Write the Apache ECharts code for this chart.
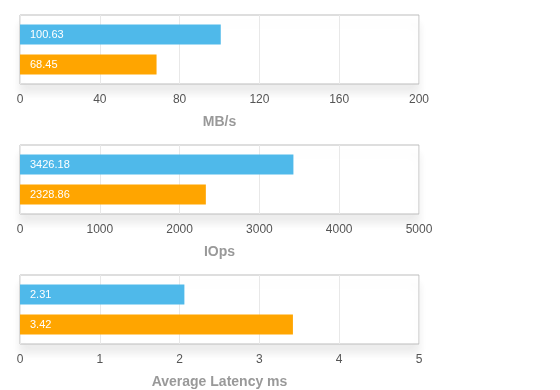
<!DOCTYPE html>
<html><head><meta charset="utf-8">
<script src="https://cdn.jsdelivr.net/npm/echarts@6/dist/echarts.min.js"></script>
<style>html,body{margin:0;padding:0;background:#fff}#c{width:560px;height:390px}</style>
</head><body><div id="c"></div>
<script>
// Data
const axisNames = ["MB/s", "IOps", "Average Latency ms"];
const axisMax = [200, 5000, 5];
const axisInterval = [40, 1000, 1];
const blueValues = [100.63, 3426.18, 2.06];
const orangeValues = [68.45, 2328.86, 3.42];
const blueLabels = ["100.63", "3426.18", "2.31"];
const orangeLabels = ["68.45", "2328.86", "3.42"];

const FONT = "'Liberation Sans', Arial, Helvetica, sans-serif";
const BLUE = "#4fb9ea";
const ORANGE = "#ffa500";
const tops = [15, 145, 275];

const grids = [], xAxes = [], yAxes = [], series = [];
for (let i = 0; i < 3; i++) {
  grids.push({
    left: 20, width: 399, top: tops[i], height: 69,
    show: true, borderColor: "#bdbdbd", borderWidth: 1, backgroundColor: "#fff",
    shadowColor: "rgba(0,0,0,0.08)", shadowBlur: 8, shadowOffsetY: 9
  });
  xAxes.push({
    type: "value", gridIndex: i, min: 0, max: axisMax[i], interval: axisInterval[i],
    axisLine: { show: false }, axisTick: { show: false },
    splitLine: { show: true, lineStyle: { color: "#e8e8e8", width: 1 } },
    axisLabel: { color: "#555", fontSize: 12, fontFamily: FONT, margin: 10,
      formatter: v => String(v) },
    name: axisNames[i], nameLocation: "middle", nameGap: 31,
    nameTextStyle: { color: "#999", fontSize: 14, fontWeight: "bold", fontFamily: FONT }
  });
  yAxes.push({
    type: "category", gridIndex: i, data: [axisNames[i]], inverse: true,
    axisLine: { show: false }, axisTick: { show: false }, axisLabel: { show: false },
    splitLine: { show: false }
  });
  const mk = (vals, labels, color) => ({
    type: "bar", xAxisIndex: i, yAxisIndex: i, barWidth: 20, barGap: "50%",
    data: [vals[i]], itemStyle: { color: color }, silent: true,
    label: {
      show: true, position: "insideLeft", distance: 10, color: "#fff",
      fontSize: 11, fontFamily: FONT, formatter: () => labels[i]
    }
  });
  series.push(mk(blueValues, blueLabels, BLUE));
  series.push(mk(orangeValues, orangeLabels, ORANGE));
}

const chart = echarts.init(document.getElementById("c"), null, { renderer: "canvas" });
chart.setOption({
  animation: false,
  backgroundColor: "#fff",
  grid: grids, xAxis: xAxes, yAxis: yAxes, series: series
});
</script></body></html>
